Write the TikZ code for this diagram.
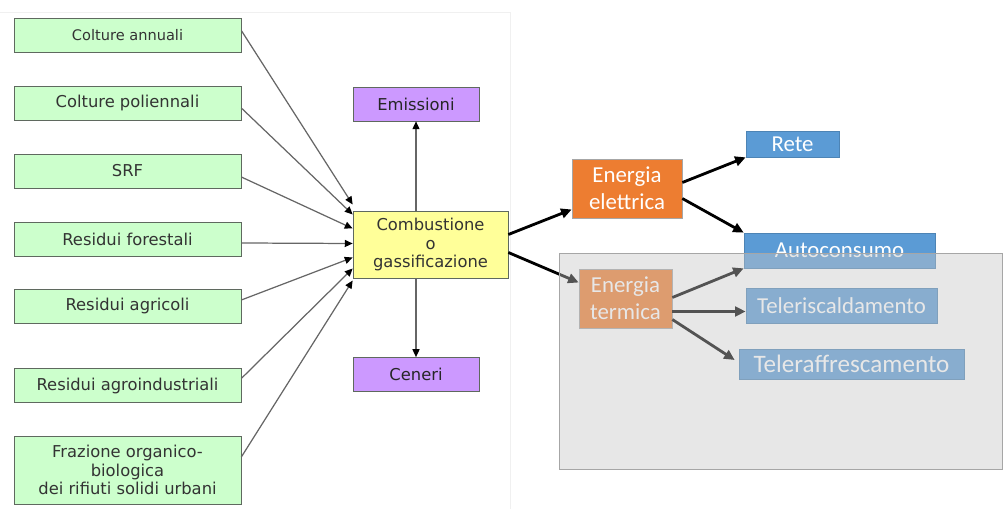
\documentclass[tikz,border=0pt]{standalone}
\usepackage{fontspec}
\usetikzlibrary{arrows.meta,calc}
\newfontfamily\verdana{DejaVu Sans}
\newfontfamily\calibri{Carlito}
\definecolor{feedgreen}{RGB}{204,255,204}
\definecolor{procyellow}{RGB}{255,255,153}
\definecolor{outpurple}{RGB}{204,153,255}
\definecolor{enorange}{RGB}{237,125,49}
\definecolor{useblue}{RGB}{91,155,213}
\definecolor{boxline}{RGB}{95,105,95}

\tikzset{
  feedbox/.style={draw=boxline, fill=feedgreen, minimum width=4.54cm, minimum height=0.68cm,
    inner sep=1pt, align=center, text=black!80, font=\verdana\fontsize{9.3}{10.5}\selectfont},
  procbox/.style={draw=boxline, fill=procyellow, minimum width=3.1cm, minimum height=1.34cm,
    inner sep=1pt, align=center, text=black!80, font=\verdana\fontsize{9.3}{10.5}\selectfont},
  outbox/.style={draw=boxline, fill=outpurple, minimum width=2.52cm, minimum height=0.68cm,
    inner sep=1pt, align=center, text=black!85, font=\verdana\fontsize{9.3}{10.5}\selectfont},
  enbox/.style={draw=black!35, fill=enorange, minimum width=2.2cm, minimum height=1.18cm,
    inner sep=1pt, align=center, text=white, font=\calibri\fontsize{13}{15.2}\selectfont},
  usebox/.style={draw=useblue!85!black, fill=useblue, minimum width=3.82cm, minimum height=0.7cm,
    inner sep=1pt, align=center, text=white, font=\calibri\fontsize{13}{15}\selectfont},
  feed/.style={draw=black!60, line width=0.7pt, -{Triangle[black, length=4.5pt, width=4pt]}},
  power/.style={draw=black, line width=1.6pt, -{Triangle[length=6pt, width=5.5pt]}}
}

\begin{document}
\begin{tikzpicture}[x=0.02cm, y=-0.02cm]
\useasboundingbox (0,0) rectangle (1004,509);
\draw[black!6] (0,12) -- (510,12) -- (510,509);

% biomasse
\node[feedbox, font=\verdana\fontsize{8.3}{10}\selectfont] (ca) at (127.5,35.5) {Colture annuali};
\node[feedbox] (cp) at (127.5,103) {Colture poliennali};
\node[feedbox] (srf) at (127.5,171) {SRF};
\node[feedbox] (rf) at (127.5,239) {Residui forestali};
\node[feedbox] (ra) at (127.5,306) {Residui agricoli};
\node[feedbox] (ri) at (127.5,385.5) {Residui agroindustriali};
\node[feedbox, minimum height=1.36cm] (fo) at (127.5,470) {Frazione organico-\\biologica\\dei rifiuti solidi urbani};

% processo
\node[procbox] (comb) at (430.5,244.5) {Combustione\\o\\gassificazione};
\node[outbox] (emi) at (416,104) {Emissioni};
\node[outbox] (cen) at (416,374.5) {Ceneri};

\foreach \n/\sy/\dy in {ca/-5/-40, cp/5/-30, srf/6/-16, rf/4/-1, ra/-6/13, ri/-7/24, fo/-13/36}
  \draw[feed] ($(\n.east)+(0,\sy)$) -- ($(comb.west)+(0,\dy)$);
\draw[feed] (comb.north -| emi.south) -- (emi.south);
\draw[feed] (comb.south -| cen.north) -- (cen.north);

% energia
\node[enbox] (ee) at (627,188.5) {Energia\\elettrica};
\node[enbox, minimum width=1.86cm] (et) at (625.5,298.5) {Energia\\termica};
\node[usebox, minimum width=1.86cm, minimum height=0.52cm] (rete) at (792.5,144) {Rete};
\node[usebox] (auto) at (839.5,250.5) {Autoconsumo};
\node[usebox] (tr) at (841.5,305.5) {Teleriscaldamento};
\node[usebox, minimum width=4.5cm, minimum height=0.6cm, font=\calibri\fontsize{14.3}{16}\selectfont] (tf) at (851.5,364) {Teleraffrescamento};

\draw[power] ($(comb.east)+(0,-10)$) -- ($(ee.west)+(0,21)$);
\draw[power] ($(comb.east)+(0,8)$) -- ($(et.west)+(0,-16)$);
\draw[power] ($(ee.east)+(0,-6)$) -- (rete.south west);
\draw[power] ($(ee.east)+(0,10)$) -- (auto.north west);
\draw[power] ($(et.east)+(0,-1)$) -- (auto.south west);
\draw[power] ($(et.east)+(0,13)$) -- ($(tr.west)+(0,6)$);
\draw[power] ($(et.east)+(0,21)$) -- ($(tf.west)+(-4,-4)$);

% velo grigio
\draw[draw=black!35, fill=black!22, fill opacity=0.42] (559,253) rectangle (1002,469);
\end{tikzpicture}
\end{document}
